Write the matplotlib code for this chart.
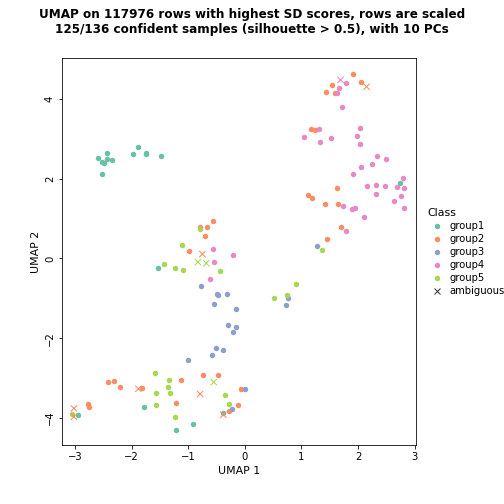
import matplotlib
matplotlib.use("Agg")
import matplotlib.pyplot as plt

g1_x = [-2.59,-2.43,-2.53,-2.48,-2.43,-2.35,-2.52,-1.89,-1.97,-1.75,-1.74,-1.48,-1.54,2.74,-1.78,-2.94,-0.39,-0.92,-1.21]
g1_y = [2.53,2.65,2.41,2.39,2.50,2.48,2.11,2.80,2.61,2.65,2.61,2.58,-0.23,1.89,-3.73,-3.92,-3.87,-4.16,-4.31]
g2_x = [1.91,1.54,2.05,1.44,1.59,1.16,1.24,1.63,1.12,1.18,1.42,1.65,1.69,1.46,-0.56,-0.80,-0.67,-0.70,-0.98,
        -2.41,-2.31,-2.20,-1.82,-1.12,-0.74,-0.47,-0.06,-1.21,-0.12,-0.28,-2.77,-2.75]
g2_y = [4.64,4.35,4.43,4.17,4.16,3.24,3.23,1.77,1.58,1.51,1.36,1.36,0.80,0.48,0.93,0.78,0.78,0.56,0.19,
        -3.10,-3.08,-3.22,-3.25,-3.04,-2.93,-2.92,-3.28,-3.63,-3.68,-3.83,-3.66,-3.73]
g3_x = [1.28,0.76,0.72,-0.77,-0.50,-0.47,-0.31,-0.54,-0.15,-0.29,-0.15,-0.21,-0.51,-0.38,-0.58,-1.01,0.0,-0.22]
g3_y = [0.31,-1.0,-1.17,-0.70,-0.90,-0.92,-0.90,-1.15,-1.27,-1.68,-1.73,-1.84,-2.25,-2.30,-2.43,-2.55,-3.28,-3.77]
g4_x = [1.79,1.66,1.63,1.72,1.31,1.04,1.32,1.53,2.03,1.99,2.03,2.34,2.49,2.25,2.06,1.91,2.79,2.15,2.32,2.48,
        2.69,2.81,2.32,2.76,2.63,2.81,1.73,1.90,1.95,2.11,1.78,-0.56,-0.21,-0.54,-0.62]
g4_y = [4.39,4.28,4.14,3.80,3.25,3.05,2.92,3.03,3.27,3.06,2.87,2.57,2.50,2.37,2.29,2.13,2.02,1.81,1.84,1.81,
        1.79,1.77,1.61,1.57,1.44,1.27,1.31,1.23,1.26,1.03,0.69,0.25,0.08,-0.10,-0.51]
g5_x = [1.36,0.90,0.75,-0.79,-1.11,-1.43,-1.23,-1.09,-0.44,0.52,
        -1.58,-1.34,-1.36,-1.57,-1.32,-1.57,-1.23,-0.35,-0.28,-3.05]
g5_y = [0.21,-0.65,-0.92,0.74,0.33,-0.14,-0.24,-0.30,-0.31,-1.0,
        -2.88,-3.06,-3.23,-3.38,-3.38,-3.68,-3.98,-3.42,-3.66,-3.91]
amb_x = [1.69,2.15,-0.75,-0.83,-0.68,-0.55,-1.88,-0.79,-3.02,-3.02,-0.38]
amb_y = [4.48,4.31,0.11,-0.09,-0.12,-3.10,-3.27,-3.40,-3.76,-3.97,-3.92]
amb_c = ["#E78AC3","#FC8D62","#FC8D62","#A6D854","#A6D854","#A6D854","#FC8D62","#FC8D62","#FC8D62","#FC8D62","#FC8D62"]

colors = ["#66C2A5","#FC8D62","#8DA0CB","#E78AC3","#A6D854"]
names = ["group1","group2","group3","group4","group5"]

fig = plt.figure(figsize=(7,7), dpi=72)
ax = fig.add_axes([0.123,0.117,0.702,0.768])
for (xs,ys),c,n in zip([(g1_x,g1_y),(g2_x,g2_y),(g3_x,g3_y),(g4_x,g4_y),(g5_x,g5_y)],colors,names):
    ax.scatter(xs,ys,s=30,c=c,label=n,linewidths=0)
ax.scatter(amb_x,amb_y,marker="x",s=40,c=amb_c,linewidths=1)
ax.set_xlim(-3.23,3.02)
ax.set_ylim(-4.68,5.03)
ax.set_xticks([-3,-2,-1,0,1,2,3])
ax.set_yticks([-4,-2,0,2,4])
ax.tick_params(labelsize=10)
for t in ax.get_yticklabels():
    t.set_rotation(90); t.set_va("center")
ax.set_xlabel("UMAP 1", fontsize=11)
ax.set_ylabel("UMAP 2", fontsize=11)
fig.suptitle("UMAP on 117976 rows with highest SD scores, rows are scaled\n125/136 confident samples (silhouette > 0.5), with 10 PCs",
             fontsize=12, fontweight="bold", y=0.985)
h,l = ax.get_legend_handles_labels()
h.append(plt.Line2D([],[],marker="x",ls="",color="#333333")); l.append("ambiguous")
fig.legend(h,l,title="Class",loc="center left",bbox_to_anchor=(0.83,0.5),frameon=False,fontsize=10,title_fontsize=11,
           handletextpad=0.2,labelspacing=0.3,alignment="left")
fig.savefig("out.png")
